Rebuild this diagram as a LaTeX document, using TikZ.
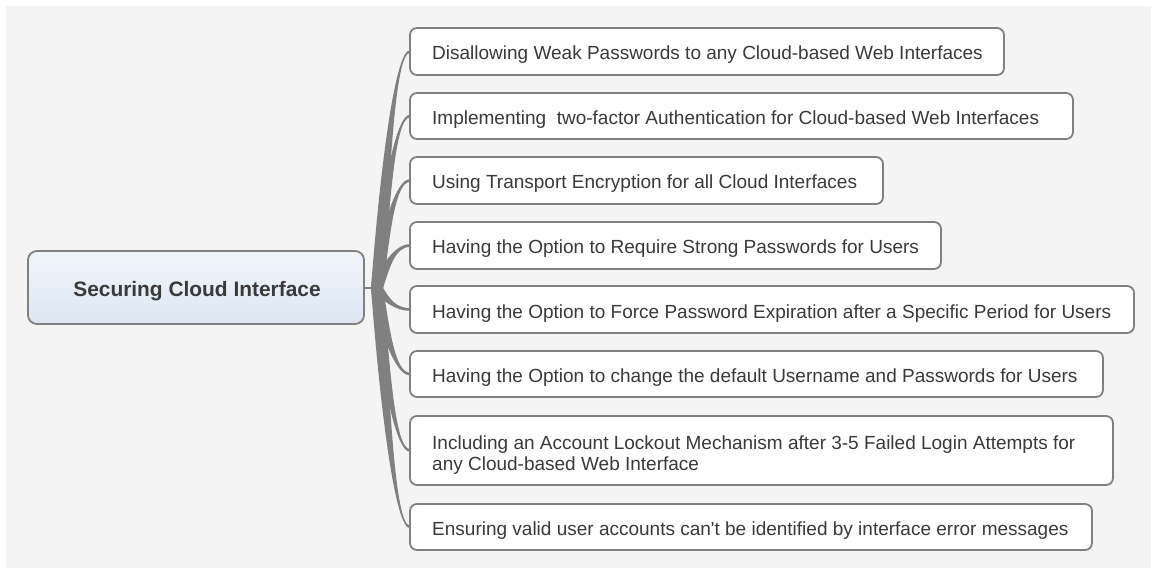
\documentclass[tikz,border=0pt]{standalone}
\usepackage{fontspec}
\setmainfont{Liberation Sans}[Ligatures=TeXOff]
\usetikzlibrary{calc}
\definecolor{canvas}{HTML}{F4F4F4}
\definecolor{edge}{HTML}{808080}
\definecolor{ink}{HTML}{3A3A3A}
\definecolor{rootA}{HTML}{F2F6FB}
\definecolor{rootB}{HTML}{DCE6F2}
\tikzset{
  topicbox/.style={draw=edge, line width=1.8pt, rounded corners=7pt, fill=white},
  rootbox/.style={draw=edge, line width=1.8pt, rounded corners=9pt, top color=rootA, bottom color=rootB},
  topictext/.style={anchor=base west, inner sep=0pt, text=ink, font=\fontsize{19}{21.5}\selectfont, align=left},
  roottext/.style={anchor=base, inner sep=0pt, text=ink, font=\fontsize{20.9}{24}\selectfont\bfseries},
  branch/.style={fill=edge, draw=none},
}
% tapered branch from the hub (377,#1) to the west side of a topic box at height #2
\newcommand\branchto[2]{%
  \pgfmathsetmacro\dy{#2-#1}%
  \pgfmathsetmacro\s{(\dy<0)?-1:1}%
  \pgfmathsetmacro\cya{#1+0.5*\dy}%
  \fill[branch] (377-6,#1)
    .. controls (385-5,\cya) and (395,#2+\s*1.8) .. (410,#2+\s*1.3)
    -- (410,#2-\s*1.3)
    .. controls (395,#2-\s*1.8) and (385+5,\cya) .. (377+6,#1) -- cycle;%
}
\begin{document}
\begin{tikzpicture}[x=1pt,y=-1pt]
\useasboundingbox (0,0) rectangle (1151,569);
\fill[canvas] (6,6) rectangle (1151,568);

% hub stub and branches
\coordinate (hub) at (374,288);
\branchto{288}{51.5}
\branchto{288}{116}
\branchto{288}{180.5}
\branchto{288}{245.5}
\branchto{288}{309.5}
\branchto{288}{374}
\branchto{288}{450.5}
\branchto{288}{527}

% root topic
\draw[rootbox] (28,251) rectangle (364,324);
\node[roottext] (root) at (197,296.5) {Securing Cloud Interface};
\draw[edge, line width=1.5pt] (364,288) -- (hub);

% sub-topics
\draw[topicbox] (410,28) rectangle (1004,75);
\node[topictext] (t1) at (432,60) {Disallowing Weak Passwords to any Cloud-based Web Interfaces};
\draw[topicbox] (410,93) rectangle (1073,139);
\node[topictext] (t2) at (432,124.5) {Implementing~ two-factor Authentication for Cloud-based Web Interfaces};
\draw[topicbox] (410,157) rectangle (883,204);
\node[topictext] (t3) at (432,189) {Using Transport Encryption for all Cloud Interfaces};
\draw[topicbox] (410,222) rectangle (941,269);
\node[topictext] (t4) at (432,254) {Having the Option to Require Strong Passwords for Users};
\draw[topicbox] (410,286) rectangle (1134,333);
\node[topictext] (t5) at (432,318) {Having the Option to Force Password Expiration after a Specific Period for Users};
\draw[topicbox] (410,351) rectangle (1103,397);
\node[topictext] (t6) at (432,382.5) {Having the Option to change the default Username and Passwords for Users};
\draw[topicbox] (410,416) rectangle (1113,485);
\node[topictext] (t7) at (432,470.8) {Including an Account Lockout Mechanism after 3-5 Failed Login Attempts for\\any Cloud-based Web Interface};
\draw[topicbox] (410,504) rectangle (1092,550);
\node[topictext] (t8) at (432,535.5) {Ensuring valid user accounts can't be identified by interface error messages};
\end{tikzpicture}
\end{document}
